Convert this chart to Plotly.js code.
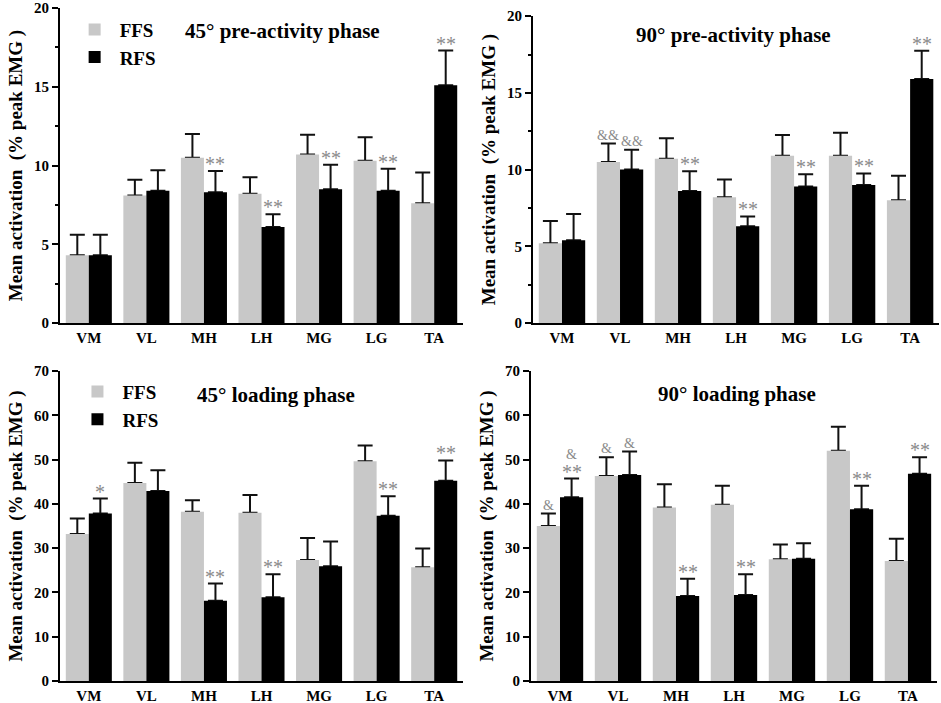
<!DOCTYPE html>
<html>
<head>
<meta charset="utf-8">
<script src="https://cdn.plot.ly/plotly-3.0.1.min.js"></script>
<style>
  html, body { margin: 0; padding: 0; background: #fff; }
  #chart { width: 941px; height: 703px; }
</style>
</head>
<body>
<div id="chart"></div>
<script>
const muscles = ['VM', 'VL', 'MH', 'LH', 'MG', 'LG', 'TA']

// 45° pre-activity phase
const pre45Ffs = [4.3, 8.1, 10.5, 8.2, 10.7, 10.3, 7.6]
const pre45FfsSd = [1.3, 1.0, 1.5, 1.05, 1.25, 1.5, 1.95]
const pre45Rfs = [4.3, 8.4, 8.3, 6.1, 8.5, 8.4, 15.1]
const pre45RfsSd = [1.3, 1.3, 1.35, 0.8, 1.55, 1.4, 2.2]
const pre45FfsMarks = ['', '', '', '', '', '', '']
const pre45RfsMarks = ['', '', '**', '**', '**', '**', '**']

// 90° pre-activity phase
const pre90Ffs = [5.2, 10.5, 10.7, 8.2, 10.9, 10.9, 8.0]
const pre90FfsSd = [1.45, 1.2, 1.35, 1.15, 1.35, 1.5, 1.6]
const pre90Rfs = [5.4, 10.0, 8.6, 6.3, 8.9, 9.0, 15.9]
const pre90RfsSd = [1.7, 1.3, 1.3, 0.65, 0.8, 0.75, 1.85]
const pre90FfsMarks = ['', '&&', '', '', '', '', '']
const pre90RfsMarks = ['', '&&', '**', '**', '**', '**', '**']

// 45° loading phase
const load45Ffs = [33.2, 44.7, 38.2, 38.0, 27.3, 49.6, 25.7]
const load45FfsSd = [3.5, 4.6, 2.6, 4.0, 5.0, 3.6, 4.2]
const load45Rfs = [37.8, 42.9, 18.1, 18.9, 25.9, 37.3, 45.2]
const load45RfsSd = [3.4, 4.7, 3.9, 5.2, 5.6, 4.4, 4.6]
const load45FfsMarks = ['', '', '', '', '', '', '']
const load45RfsMarks = ['*', '', '**', '**', '', '**', '**']

// 90° loading phase
const load90Ffs = [35.0, 46.3, 39.2, 39.8, 27.5, 52.0, 27.1]
const load90FfsSd = [2.8, 4.2, 5.2, 4.3, 3.3, 5.4, 5.0]
const load90Rfs = [41.5, 46.5, 19.2, 19.4, 27.6, 38.8, 46.8]
const load90RfsSd = [4.2, 5.3, 3.9, 4.7, 3.5, 5.3, 3.7]
const load90FfsMarks = ['&', '&', '', '', '', '', '']
const load90RfsMarks = ['&|**', '&', '**', '**', '', '**', '**']

const FONT = 'Liberation Serif, Times New Roman, serif'
const FFS_COLOR = '#c8c8c8'
const RFS_COLOR = '#000000'
const MARK_COLOR = '#8a8a8a'

const panels = [
  {
    title: '45° pre-activity phase', ffs: pre45Ffs, ffsSd: pre45FfsSd, rfs: pre45Rfs, rfsSd: pre45RfsSd,
    ffsMarks: pre45FfsMarks, rfsMarks: pre45RfsMarks, ax: '', legend: 'legend',
    xDomain: [0.0638, 0.492], yDomain: [0.5405, 0.9886], range: [0, 20], dtick: 5, minor: 2.5,
    titleX: 0.2997, titleY: 0.956
  },
  {
    title: '90° pre-activity phase', ffs: pre90Ffs, ffsSd: pre90FfsSd, rfs: pre90Rfs, rfsSd: pre90RfsSd,
    ffsMarks: pre90FfsMarks, rfsMarks: pre90RfsMarks, ax: '2', legend: null,
    xDomain: [0.5664, 0.998], yDomain: [0.5405, 0.977], range: [0, 20], dtick: 5, minor: 2.5,
    titleX: 0.78, titleY: 0.95
  },
  {
    title: '45° loading phase', ffs: load45Ffs, ffsSd: load45FfsSd, rfs: load45Rfs, rfsSd: load45RfsSd,
    ffsMarks: load45FfsMarks, rfsMarks: load45RfsMarks, ax: '3', legend: 'legend2',
    xDomain: [0.0638, 0.492], yDomain: [0.0313, 0.4723], range: [0, 70], dtick: 10, minor: null,
    titleX: 0.293, titleY: 0.438
  },
  {
    title: '90° loading phase', ffs: load90Ffs, ffsSd: load90FfsSd, rfs: load90Rfs, rfsSd: load90RfsSd,
    ffsMarks: load90FfsMarks, rfsMarks: load90RfsMarks, ax: '4', legend: null,
    xDomain: [0.5643, 0.9957], yDomain: [0.0313, 0.4723], range: [0, 70], dtick: 10, minor: null,
    titleX: 0.783, titleY: 0.439
  }
]

const traces = []
const annotations = []
const legendStyle = {
  xanchor: 'left', yanchor: 'top', bgcolor: 'rgba(0,0,0,0)', tracegroupgap: 2,
  itemwidth: 40, font: { family: FONT, size: 19, weight: 'bold', color: '#000' }
}
const layout = {
  width: 941,
  height: 703,
  margin: { l: 0, r: 0, t: 0, b: 0 },
  paper_bgcolor: '#ffffff',
  plot_bgcolor: '#ffffff',
  barmode: 'group',
  bargap: 0.2,
  bargroupgap: 0,
  font: { family: FONT, color: '#000', size: 15 },
  showlegend: true,
  legend: Object.assign({ x: 0.074, y: 0.985 }, legendStyle),
  legend2: Object.assign({ x: 0.077, y: 0.47 }, legendStyle),
  annotations: annotations
}

function errorBars (sd) {
  return {
    type: 'data', symmetric: false, array: sd, arrayminus: sd.map(() => 0),
    color: '#111', thickness: 2, width: 7.5
  }
}

// a mark like '&|**' stacks '&' above '**'
function addMarks (marks, values, sd, offset, xref, yref) {
  marks.forEach((m, i) => {
    if (!m) return
    const parts = m.split('|').reverse()
    let shift = 0
    parts.forEach(part => {
      const amp = part.indexOf('&') === 0
      annotations.push({
        xref: xref, yref: yref, x: i + offset, y: values[i] + sd[i],
        text: part, showarrow: false, xanchor: 'center', yanchor: 'bottom',
        yshift: (amp ? -1 : -6) + shift,
        font: { family: FONT, size: amp ? 14 : 20, color: MARK_COLOR }
      })
      shift += 16
    })
  })
}

panels.forEach(p => {
  const xa = 'x' + p.ax
  const ya = 'y' + p.ax
  const groups = [
    { name: 'FFS', values: p.ffs, sd: p.ffsSd, color: FFS_COLOR, marks: p.ffsMarks, offset: -0.2 },
    { name: 'RFS', values: p.rfs, sd: p.rfsSd, color: RFS_COLOR, marks: p.rfsMarks, offset: 0.2 }
  ]

  // error bars first so the bars hide their lower caps
  groups.forEach(g => {
    traces.push({
      type: 'bar', x: muscles, y: g.values, xaxis: xa, yaxis: ya,
      offsetgroup: g.name, marker: { color: 'rgba(0,0,0,0)' },
      error_y: errorBars(g.sd), showlegend: false, hoverinfo: 'skip'
    })
  })
  groups.forEach(g => {
    const t = {
      type: 'bar', name: g.name, x: muscles, y: g.values, xaxis: xa, yaxis: ya,
      offsetgroup: g.name, marker: { color: g.color, line: { width: 0 } },
      showlegend: !!p.legend
    }
    if (p.legend) t.legend = p.legend
    traces.push(t)
    addMarks(g.marks, g.values, g.sd, g.offset, xa, ya)
  })

  layout['xaxis' + p.ax] = {
    domain: p.xDomain, anchor: ya, type: 'category', range: [-0.5, 6.5],
    showline: true, linecolor: '#000', linewidth: 2, ticks: '', showgrid: false,
    zeroline: false, fixedrange: true,
    tickfont: { family: FONT, size: 15, weight: 'bold', color: '#000' }
  }
  const yAxis = {
    domain: p.yDomain, anchor: xa, range: p.range, dtick: p.dtick, tick0: 0,
    showline: true, linecolor: '#000', linewidth: 2, ticks: 'outside', ticklen: 6,
    tickwidth: 2, tickcolor: '#000', showgrid: false, zeroline: false, fixedrange: true,
    tickfont: { family: FONT, size: 15, weight: 'bold', color: '#000' },
    title: {
      text: 'Mean activation\u00a0\u00a0(% peak EMG )', standoff: 6,
      font: { family: FONT, size: 19, weight: 'bold', color: '#000' }
    }
  }
  if (p.minor) {
    yAxis.minor = { dtick: p.minor, ticks: 'outside', ticklen: 3, tickwidth: 2, tickcolor: '#000', showgrid: false }
  }
  layout['yaxis' + p.ax] = yAxis

  annotations.push({
    xref: 'paper', yref: 'paper', x: p.titleX, y: p.titleY, text: p.title,
    showarrow: false, xanchor: 'center', yanchor: 'middle',
    font: { family: FONT, size: 21, weight: 'bold', color: '#000' }
  })
})

Plotly.newPlot('chart', traces, layout, { displayModeBar: false, staticPlot: true })
</script>
</body>
</html>
